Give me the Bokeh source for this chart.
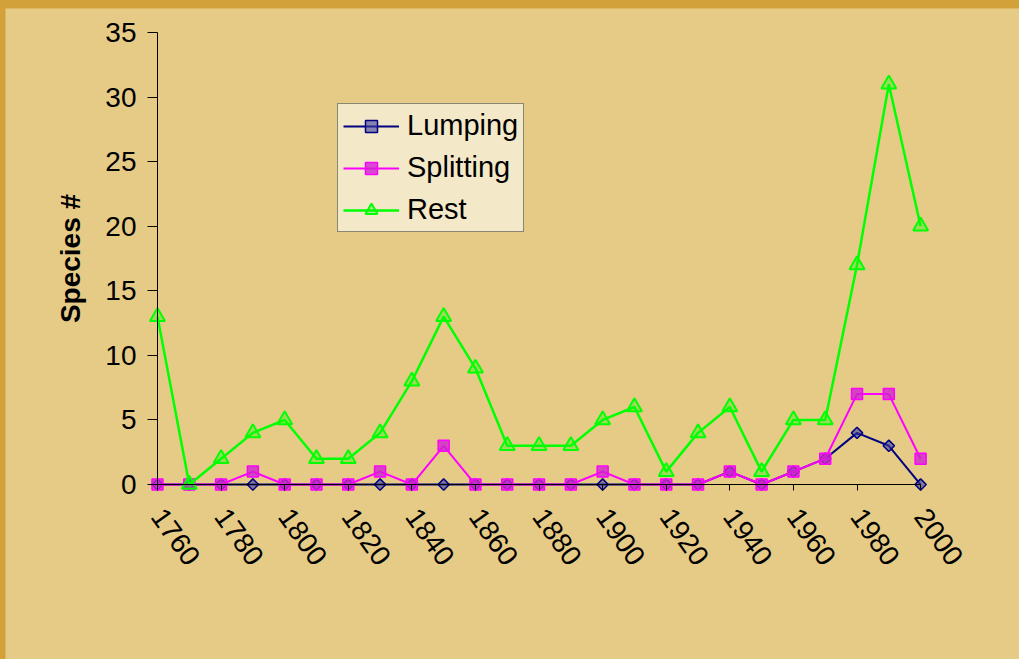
import numpy as np
from bokeh.plotting import figure
from bokeh.models import Range1d, FixedTicker, LinearAxis
from bokeh.embed import file_html
from bokeh.resources import INLINE

years = [1760, 1770, 1780, 1790, 1800, 1810, 1820, 1830, 1840, 1850, 1860, 1870,
         1880, 1890, 1900, 1910, 1920, 1930, 1940, 1950, 1960, 1970, 1980, 1990, 2000]
lumping = [0, 0, 0, 0, 0, 0, 0, 0, 0, 0, 0, 0, 0, 0, 0, 0, 0, 0, 1, 0, 1, 2, 4, 3, 0]
splitting = [0, 0, 0, 1, 0, 0, 0, 1, 0, 3, 0, 0, 0, 0, 1, 0, 0, 0, 1, 0, 1, 2, 7, 7, 2]
rest = [13, 0, 2, 4, 5, 2, 2, 4, 8, 13, 9, 3, 3, 3, 5, 6, 1, 4, 6, 1, 5, 5, 17, 31, 20]
x_ticks = list(range(1760, 2001, 20))
y_ticks = list(range(0, 36, 5))

BG = "#E6CB86"
FONT = "Liberation Sans"
FS = "28px"

p = figure(width=1014, height=651,
           min_border_left=0, min_border_right=0, min_border_top=0, min_border_bottom=0,
           x_range=Range1d(1712.2, 2031.1), y_range=Range1d(-13.55, 36.86),
           x_axis_type=None, y_axis_type=None,
           output_backend="svg", toolbar_location=None)
p.margin = (8, 0, 0, 5)
p.background_fill_color = BG
p.border_fill_color = BG
p.outline_line_color = None

# Lumping
p.line(years, lumping, line_color="#000080", line_width=2, legend_label="Lumping")
p.scatter(years, lumping, marker="square", angle=np.pi / 4, size=8,
          line_color="#000080", line_width=1.5, fill_color="#4040A0", fill_alpha=0.6,
          legend_label="Lumping")
# Splitting
p.line(years, splitting, line_color="#FF00FF", line_width=2, legend_label="Splitting")
p.scatter(years, splitting, marker="square", size=11,
          line_color="#FF00FF", line_width=1.5, fill_color="#D020D0", fill_alpha=0.8,
          legend_label="Splitting")
# Rest
p.line(years, rest, line_color="#00FF00", line_width=2.5, legend_label="Rest")
p.scatter(years, rest, marker="triangle", size=15,
          line_color="#00FF00", line_width=2, fill_color="#00FF00", fill_alpha=0.3,
          legend_label="Rest")

# axes placed at y = 0 and x = 1760
xa = LinearAxis(fixed_location=0, bounds=(1760, 2000), ticker=FixedTicker(ticks=x_ticks),
                major_tick_in=0, major_tick_out=6, minor_tick_line_color=None,
                axis_line_color="black", major_tick_line_color="black",
                major_label_orientation=-0.95, major_label_standoff=21,
                major_label_text_font=FONT, major_label_text_font_size=FS,
                major_label_text_color="black")
ya = LinearAxis(fixed_location=1760, bounds=(0, 35), ticker=FixedTicker(ticks=y_ticks),
                major_tick_in=0, major_tick_out=10, minor_tick_line_color=None,
                axis_line_color="black", major_tick_line_color="black",
                major_label_standoff=11,
                major_label_text_font=FONT, major_label_text_font_size=FS,
                major_label_text_color="black",
                axis_label="Species #", axis_label_standoff=16,
                axis_label_text_font=FONT, axis_label_text_font_size=FS,
                axis_label_text_font_style="bold", axis_label_text_color="black")
p.add_layout(xa, "below")
p.add_layout(ya, "left")

lg = p.legend[0]
lg.location = (332, 427)
lg.background_fill_color = "#F3E8C8"
lg.background_fill_alpha = 1.0
lg.border_line_color = "#222222"
lg.border_line_width = 1
lg.label_text_font = FONT
lg.label_text_font_size = "29px"
lg.label_text_color = "black"
lg.glyph_width = 56
lg.glyph_height = 30
lg.label_height = 30
lg.spacing = 9
lg.padding = 5
lg.label_standoff = 8
lg.margin = 0

html = file_html(p, INLINE)
html = html.replace("<body>", '<body style="background-color:#D3A13A;">')
open("out.html", "w").write(html)
